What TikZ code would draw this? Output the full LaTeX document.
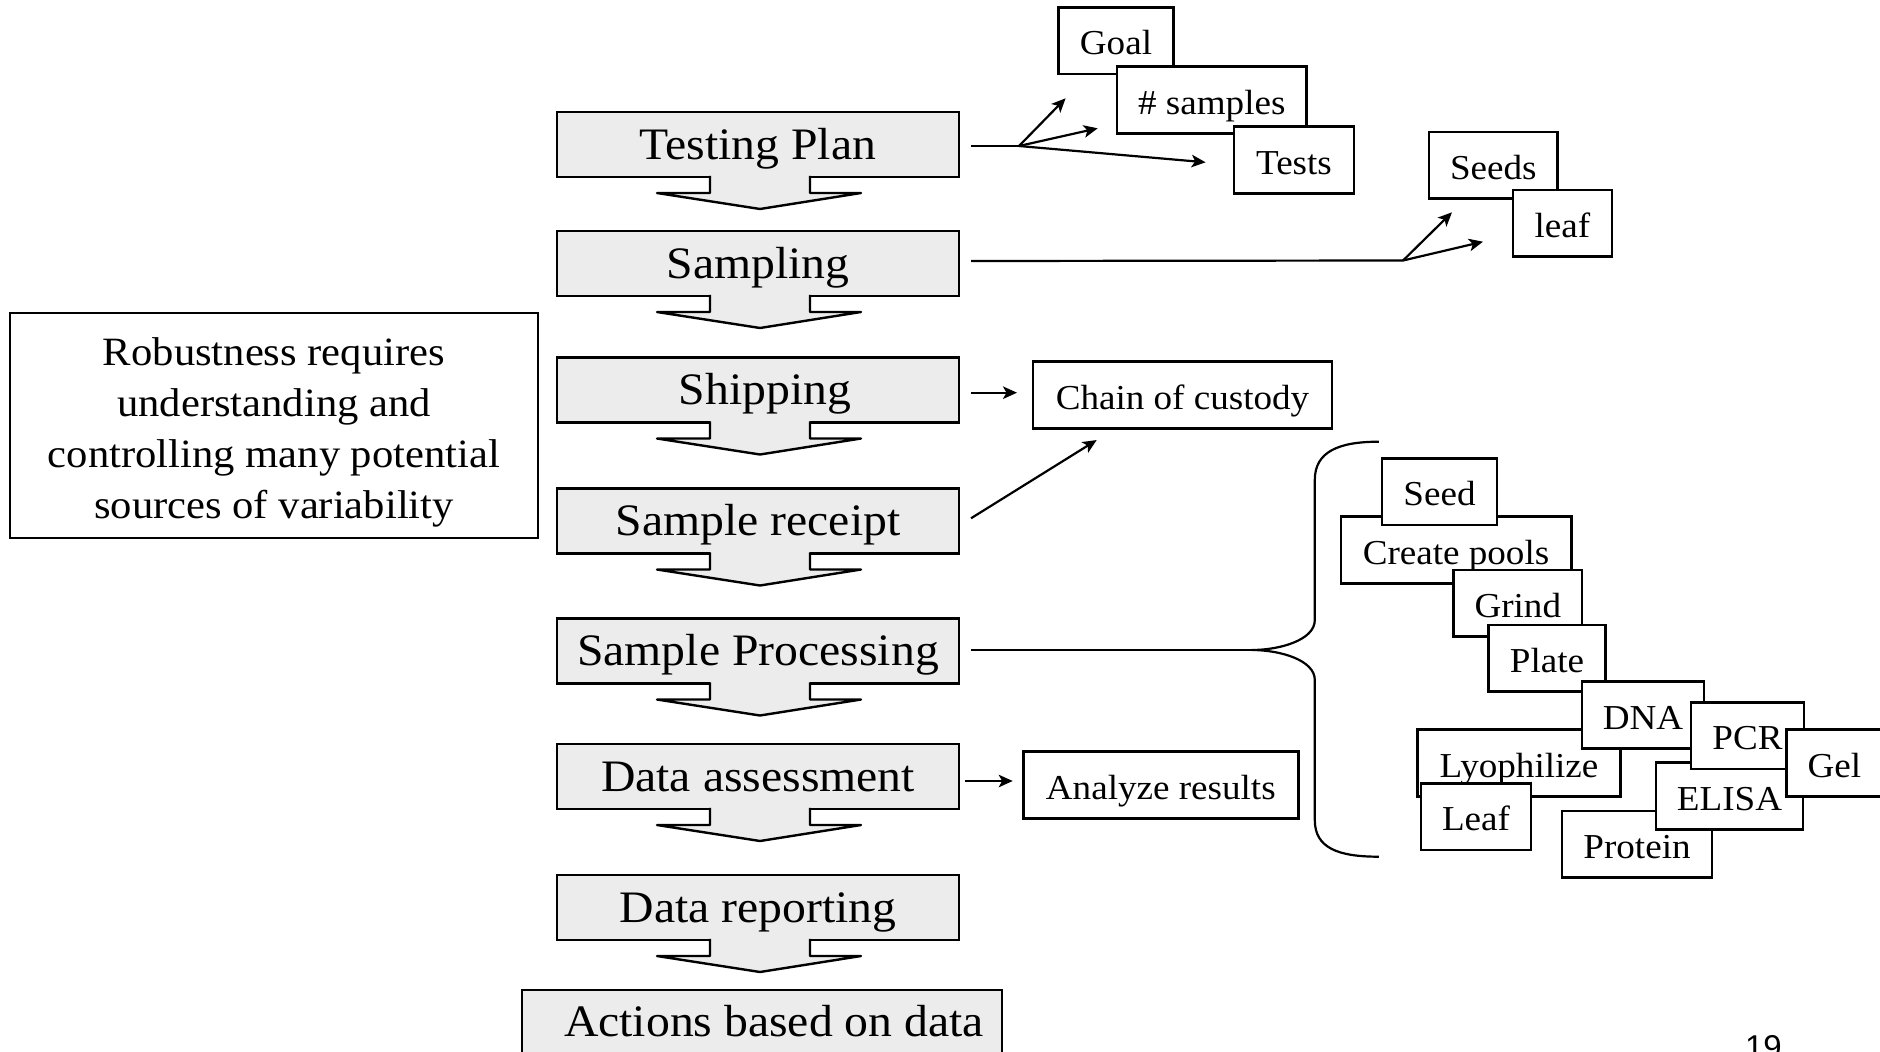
\documentclass[tikz,border=0pt]{standalone}
\usepackage{fontspec}
\setmainfont{Liberation Serif}[FakeStretch=1.06]
\newfontfamily\pagenumfont{Liberation Sans}
\usetikzlibrary{arrows.meta,calc}

\definecolor{boxgray}{gray}{0.925}

% Down-pointing tab below a process box (stem + arrow head), merged with the box
\newcommand\flowtab[1]{%
  \fill[boxgray] ($(#1.south)+(-48,-2)$) -- ++(0,18) -- ++(-53,0)
     -- ($(#1.south)+(2,32)$) -- ($(#1.south)+(103,16)$)
     -- ($(#1.south)+(52,16)$) -- ($(#1.south)+(52,-2)$) -- cycle;
  \draw[line width=2.4pt, line join=round]
     ($(#1.south)+(-48,-1.2)$) -- ++(0,17.2) -- ++(-53,0)
     -- ($(#1.south)+(2,32)$) -- ($(#1.south)+(103,16)$)
     -- ($(#1.south)+(52,16)$) -- ($(#1.south)+(52,-1.2)$);
}

\begin{document}
\begin{tikzpicture}[x=1pt,y=-1pt,
  mainbox/.style={draw, fill=boxgray, line width=2.4pt, minimum height=65pt,
    minimum width=402pt, inner sep=0pt, outer sep=0pt,
    font=\fontsize{45}{54}\selectfont, text height=29pt, text depth=0pt},
  tagbox/.style={draw, fill=white, line width=2.5pt, minimum height=66.7pt,
    inner sep=0pt, outer sep=0pt,
    font=\fontsize{35}{42}\selectfont, text height=28pt, text depth=0pt},
  link/.style={line width=2.2pt},
  arr/.style={link, -{Stealth[length=14pt,width=12.5pt,inset=3.5pt]}},
]
\useasboundingbox (0,0) rectangle (1880,1052);
\fill[white] (0,0) rectangle (1880,1052);

% ---- process chain ----
\node[mainbox] (plan) at (758,144.5) {Testing Plan};
\flowtab{plan}
\node[mainbox] (sampling) at (758,263.5) {Sampling};
\flowtab{sampling}
\node[mainbox] (shipping) at (758,390) {\kern14pt Shipping};
\flowtab{shipping}
\node[mainbox] (receipt) at (758,521) {Sample receipt};
\flowtab{receipt}
\node[mainbox] (processing) at (758,651) {Sample Processing};
\flowtab{processing}
\node[mainbox] (assessment) at (758,776.5) {Data assessment};
\flowtab{assessment}
\node[mainbox] (reporting) at (758,907.5) {Data reporting};
\flowtab{reporting}
\node[mainbox, minimum width=480pt, text height=27pt] (actions) at (762,1022.5)
  {\kern24pt Actions based on data};

% ---- side note ----
\node[draw, line width=2.4pt, minimum width=528pt, minimum height=225pt,
  inner sep=0pt] (robust) at (274,425.5) {};
\node[inner sep=0pt, align=center, font=\fontsize{40.2}{51}\selectfont]
  (robusttext) at (274,432)
  {Robustness requires\strut\\understanding and\strut\\controlling many potential\strut\\sources of variability\strut};

% ---- testing plan details ----
\node[tagbox, minimum width=114.7pt] (goal) at (1116,40.7) {Goal};
\node[tagbox, minimum width=189.5pt] (nsamples) at (1211.8,100) {\# samples};
\node[tagbox, minimum width=120pt] (tests) at (1294,160) {Tests};

\coordinate (planfork) at (1019,146);
\coordinate (goaltip) at (1065.6,98.3);
\coordinate (nsamplestip) at (1097.7,128.3);
\coordinate (teststip) at (1205.6,162.3);
\draw[link] ($(plan.east)+(12,1.5)$) -- (planfork);
\draw[arr] (planfork) -- (goaltip);
\draw[arr] (planfork) -- (nsamplestip);
\draw[arr] (planfork) -- (teststip);

% ---- sampling details ----
\node[tagbox, minimum width=128.6pt] (seeds) at (1493.3,165.3) {Seeds};
\node[tagbox, minimum width=98.8pt] (leafs) at (1562.4,223.3) {leaf};

\coordinate (samplingfork) at (1403,260.5);
\coordinate (seedstip) at (1452,212.3);
\coordinate (leafstip) at (1483,241.7);
\draw[link] ($(sampling.east)+(12,-2.5)$) -- (samplingfork);
\draw[arr] (samplingfork) -- (seedstip);
\draw[arr] (samplingfork) -- (leafstip);

% ---- shipping / receipt ----
\node[tagbox, minimum width=299pt] (chain) at (1182.5,395) {Chain of custody};
\draw[arr] ($(shipping.east)+(12,2.7)$) -- ($(chain.west)+(-16,-2.3)$);
\draw[arr] ($(receipt.east)+(12,-2.7)$) -- ($(chain.south west)+(63.7,11.7)$);

% ---- data assessment ----
\node[tagbox, minimum width=275pt] (analyze) at (1160.8,785) {Analyze results};
\draw[arr] ($(assessment.east)+(6,4.5)$) -- ($(analyze.west)+(-10.6,-4)$);

% ---- sample processing: brace and steps ----
\coordinate (bracetip) at (1251.7,650);
\draw[link] ($(processing.east)+(12,-1)$) -- (bracetip);
\draw[link] (1378.8,441.7) .. controls (1338,441.7) and (1314.8,452) .. (1314.8,480)
  -- (1314.8,620) .. controls (1314.8,640) and (1280,650) .. (bracetip)
  .. controls (1280,650) and (1314.8,660) .. (1314.8,680)
  -- (1314.8,820) .. controls (1314.8,848) and (1338,856.7) .. (1378.8,856.7);

\node[tagbox, minimum width=230.5pt] (pools) at (1456,550) {Create pools};
\node[tagbox, minimum width=115pt] (seed) at (1439.5,491.7) {Seed};
\node[tagbox, minimum width=128.3pt] (grind) at (1517.8,603.3) {Grind};
\node[tagbox, minimum width=116.6pt] (plate) at (1547,658.3) {Plate};
\node[tagbox, minimum width=202.7pt] (lyo) at (1519,763) {Lyophilize};
\node[tagbox, minimum width=110pt] (leaf) at (1476,816.7) {Leaf};
\node[tagbox, minimum width=122pt] (dna) at (1643,715) {DNA};
\node[tagbox, minimum width=149.8pt] (protein) at (1637,844.3) {Protein};
\node[tagbox, minimum width=147pt] (elisa) at (1729.5,796) {ELISA};
\node[tagbox, minimum width=113pt] (pcr) at (1747.5,735.7) {PCR};
\node[tagbox, minimum width=95.4pt] (gel) at (1834.3,763) {Gel};

% ---- page number ----
\node[font=\pagenumfont\fontsize{33}{40}\selectfont, anchor=base, inner sep=0pt]
  (pagenum) at (1763.4,1058.6) {19};
\end{tikzpicture}
\end{document}
